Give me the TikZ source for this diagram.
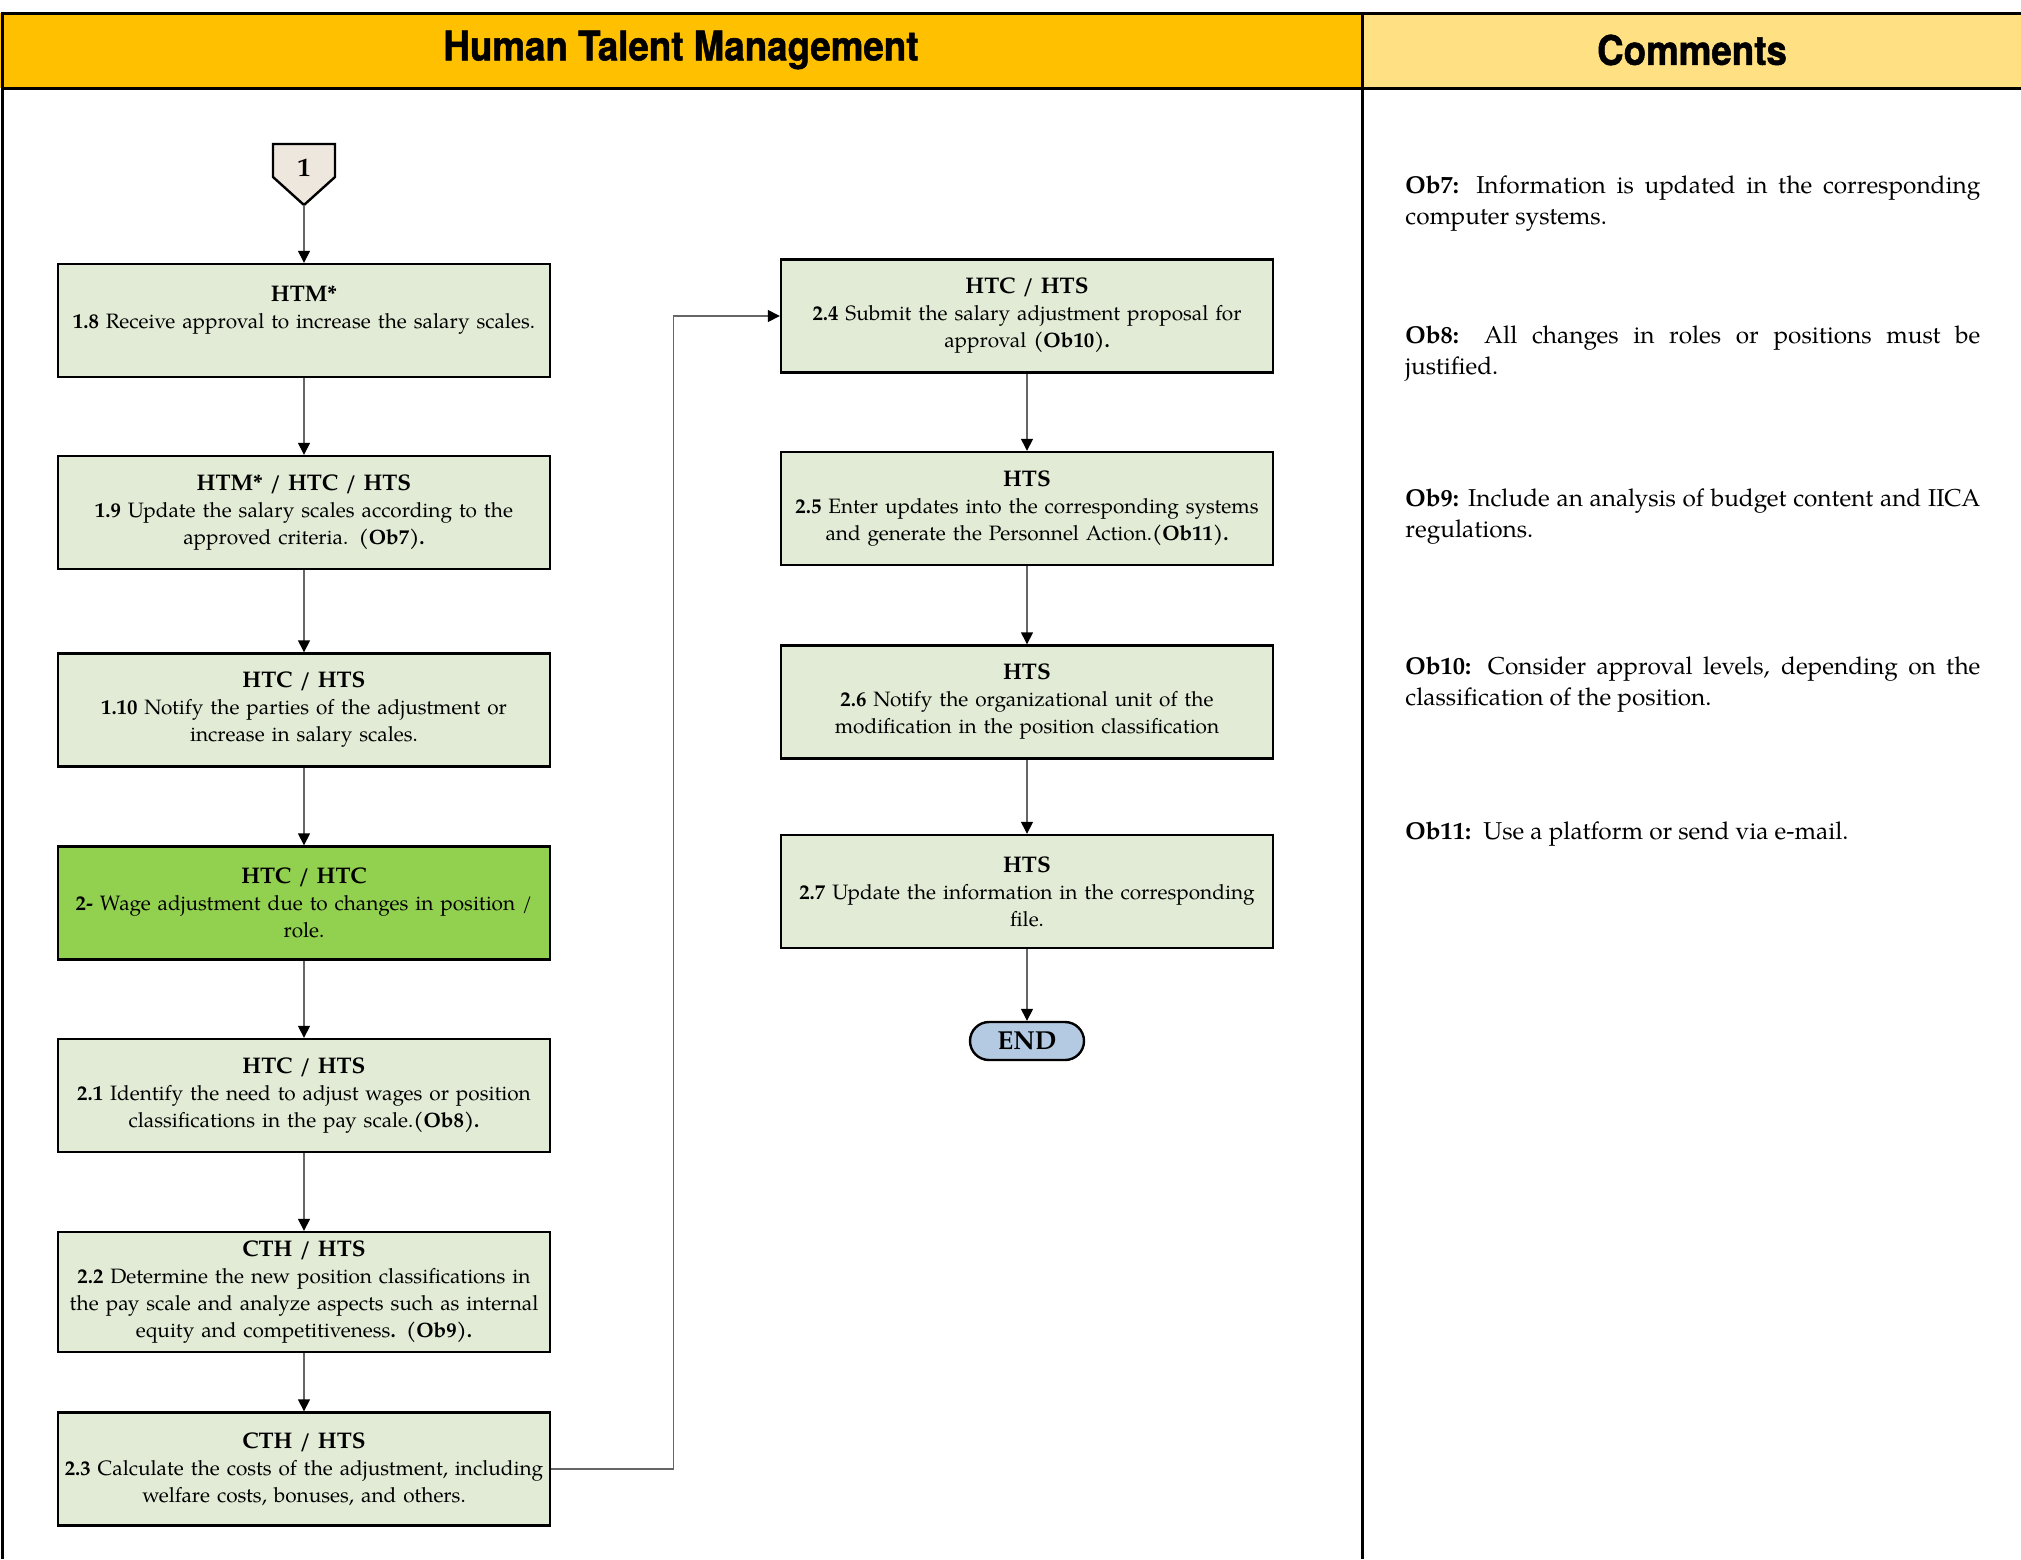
\documentclass[tikz,border=0pt]{standalone}
\usepackage{fontspec}
\setmainfont{TeX Gyre Pagella}
\newfontfamily\headfont[FakeStretch=0.9,FakeBold=1.2]{TeX Gyre Heros}
\usetikzlibrary{arrows.meta}
\definecolor{headgold}{HTML}{FFC000}
\definecolor{headpale}{HTML}{FFE183}
\definecolor{stepfill}{HTML}{E2EBD5}
\definecolor{keyfill}{HTML}{92D050}
\definecolor{linkfill}{HTML}{EEE7DD}
\definecolor{endfill}{HTML}{B4CAE2}
\hyphenpenalty=10000
\exhyphenpenalty=10000
\newcommand{\who}[1]{{\fontsize{11.3}{13.5}\selectfont\bfseries #1}}
\begin{document}
\begin{tikzpicture}[x=0.5pt,y=-0.5pt,
	task/.style={draw=black,line width=1.2pt,fill=stepfill,minimum width=246pt,minimum height=56.5pt,text width=244pt,align=center,inner sep=1pt,font=\fontsize{10.4}{13.5}\selectfont},
	flow/.style={draw=black!60,line width=0.7pt,-{Triangle[length=6pt,width=6pt,color=black]}},
	note/.style={anchor=base west,text width=287.5pt,align=justify,inner sep=0pt,font=\fontsize{12.2}{15.5}\selectfont},
	head/.style={font=\headfont\fontsize{20.4}{22}\selectfont\bfseries}]
	\useasboundingbox (0,0) rectangle (2021,1559);
	\fill[headgold] (0,13) rectangle (1362,88);
	\fill[headpale] (1362,13) rectangle (2021,88);
	\draw[line width=1.5pt] (2021,13) -- (2,13) -- (2,1559);
	\draw[line width=1.5pt] (2,88) -- (2021,88);
	\draw[line width=1.5pt] (1362,13) -- (1362,1559);
	\node[head] (lanehead) at (681,50) {Human Talent Management};
	\node[head] (notehead) at (1692,50) {Comments};

	\filldraw[fill=linkfill,line width=1.2pt] (273,144) -- (335,144) -- (335,177) -- (304,205) -- (273,177) -- cycle;
	\node[font=\fontsize{13}{15}\selectfont\bfseries] (link) at (304,168) {1};
	\coordinate (linktip) at (304,205);

	\node[task] (h18) at (304,320.5) {\who{HTM*}\\\textbf{1.8} Receive approval to increase the salary scales.\\\mbox{}};
	\node[task] (h19) at (304,512.5) {\who{HTM* / HTC / HTS}\\\textbf{1.9} Update the salary scales according to the\\approved criteria. \textbf{(Ob7).}};
	\node[task] (h110) at (304,710) {\who{HTC / HTS}\\\textbf{1.10} Notify the parties of the adjustment or\\increase in salary scales.};
	\node[task,fill=keyfill] (h2) at (304,903) {\who{HTC / HTC}\\\textbf{2-} Wage adjustment due to changes in position /\\role.};
	\node[task] (h21) at (304,1095.5) {\who{HTC / HTS}\\\textbf{2.1} Identify the need to adjust wages or position\\classifications in the pay scale.\textbf{(Ob8).}};
	\node[task,minimum height=60pt] (h22) at (304,1292) {\who{CTH / HTS}\\\textbf{2.2} Determine the new position classifications in\\the pay scale and analyze aspects such as internal\\equity and competitiveness\textbf{. (Ob9).}};
	\node[task] (h23) at (304,1469) {\who{CTH / HTS}\\\textbf{2.3} Calculate the costs of the adjustment, including\\welfare costs, bonuses, and others.};

	\node[task] (h24) at (1027,316) {\who{HTC / HTS}\\\textbf{2.4} Submit the salary adjustment proposal for\\approval \textbf{(Ob10).}};
	\node[task] (h25) at (1027,508.5) {\who{HTS}\\\textbf{2.5} Enter updates into the corresponding systems\\and generate the Personnel Action.\textbf{(Ob11).}};
	\node[task] (h26) at (1027,702) {\who{HTS}\\\textbf{2.6} Notify the organizational unit of the\\modification in the position classification};
	\node[task] (h27) at (1027,891.5) {\who{HTS}\\\textbf{2.7} Update the information in the corresponding\\file.};
	\node[draw=black,line width=1.2pt,fill=endfill,rounded corners=9.5pt,minimum width=57pt,minimum height=19pt,inner sep=0pt,font=\fontsize{13}{15}\selectfont\bfseries] (finish) at (1027,1041) {END};

	\draw[flow] (linktip) -- (h18);
	\draw[flow] (h18) -- (h19);
	\draw[flow] (h19) -- (h110);
	\draw[flow] (h110) -- (h2);
	\draw[flow] (h2) -- (h21);
	\draw[flow] (h21) -- (h22);
	\draw[flow] (h22) -- (h23);
	\draw[flow] (h23.east) -- ++(122,0) |- (h24.west);
	\draw[flow] (h24) -- (h25);
	\draw[flow] (h25) -- (h26);
	\draw[flow] (h26) -- (h27);
	\draw[flow] (h27) -- (finish);

	\node[note] (ob7) at (1405,193) {\textbf{Ob7:} Information is updated in the corresponding computer systems.};
	\node[note] (ob8) at (1405,343) {\textbf{Ob8:} All changes in roles or positions must be justified.};
	\node[note] (ob9) at (1405,506) {\textbf{Ob9:} Include an analysis of budget content and IICA regulations.};
	\node[note] (ob10) at (1405,674) {\textbf{Ob10:} Consider approval levels, depending on the classification of the position.};
	\node[note] (ob11) at (1405,839) {\textbf{Ob11:}\ \ Use a platform or send via e-mail.};
\end{tikzpicture}
\end{document}
